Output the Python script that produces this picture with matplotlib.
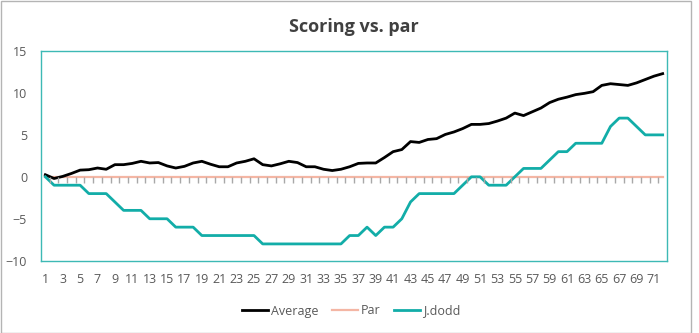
import matplotlib
matplotlib.use("Agg")
import matplotlib.pyplot as plt
from matplotlib.patches import Rectangle

plt.rcParams['font.family'] = ['Open Sans', 'DejaVu Sans']

holes = list(range(1, 73))
average = [0.25, -0.2, 0.05, 0.4, 0.8, 0.85, 1.05, 0.9, 1.45, 1.45,
           1.6, 1.85, 1.65, 1.7, 1.3, 1.05, 1.25, 1.65, 1.85, 1.5,
           1.2, 1.2, 1.65, 1.85, 2.15, 1.45, 1.3, 1.55, 1.85, 1.7,
           1.2, 1.2, 0.9, 0.75, 0.9, 1.2, 1.6, 1.65, 1.65, 2.3,
           3.0, 3.25, 4.2, 4.1, 4.45, 4.55, 5.05, 5.35, 5.75, 6.25,
           6.25, 6.35, 6.65, 7.0, 7.6, 7.3, 7.75, 8.2, 8.85, 9.25,
           9.5, 9.8, 9.95, 10.15, 10.9, 11.1, 11.0, 10.9, 11.2, 11.6,
           12.0, 12.3]
par = [0] * 72
jdodd = [0, -1, -1, -1, -1, -2, -2, -2, -3, -4,
         -4, -4, -5, -5, -5, -6, -6, -6, -7, -7,
         -7, -7, -7, -7, -7, -8, -8, -8, -8, -8,
         -8, -8, -8, -8, -8, -7, -7, -6, -7, -6,
         -6, -5, -3, -2, -2, -2, -2, -2, -1, 0,
         0, -1, -1, -1, 0, 1, 1, 1, 2, 3,
         3, 4, 4, 4, 4, 6, 7, 7, 6, 5,
         5, 5]
yticks = [-10, -5, 0, 5, 10, 15]

TEAL = '#12ADA8'
GREY_TXT = '#595959'

L, B, W, H = 41/699, 1 - 260.7/333, 626/699, 209.7/333

fig = plt.figure(figsize=(6.99, 3.33), dpi=100)
ax = fig.add_axes([L, B, W, H])

ax.plot(holes, par, color='#F4B6A4', lw=1.6, label='Par', zorder=3)
ax.plot(holes, average, color='black', lw=2.0, label='Average', zorder=4)
ax.plot(holes, jdodd, color=TEAL, lw=2.0, label='J.dodd', zorder=4)

ax.set_xlim(0.5, 72.5)
ax.set_ylim(-10, 15)
ax.set_yticks(yticks)
ax.set_xticks(holes[::2])
ax.tick_params(axis='both', length=0, labelsize=9, colors=GREY_TXT)
ax.tick_params(axis='y', pad=10)
ax.tick_params(axis='x', pad=9)
for s in ax.spines.values():
    s.set_color('#3DB9B5')
    s.set_linewidth(1.0)

# category tick marks hanging from the zero line (thin overlay axes)
zero_frac = (0 - yticks[0]) / (yticks[-1] - yticks[0])
tk = fig.add_axes([L, B + zero_frac * H, W, 0.0005])
tk.set_xlim(ax.get_xlim())
tk.set_xticks([h + 0.5 for h in holes[:-1]])
tk.set_xticklabels([])
tk.set_yticks([])
tk.patch.set_visible(False)
for s in tk.spines.values():
    s.set_visible(False)
tk.tick_params(axis='x', direction='out', length=4.5, width=1.0, color='#A8A8A8')

ax.set_title('Scoring vs. par', fontsize=13, fontweight='bold', color='#404040', pad=14)

handles, labels = ax.get_legend_handles_labels()
order = [1, 0, 2]
fig.legend([handles[i] for i in order], [labels[i] for i in order],
           loc='center', bbox_to_anchor=(351/699, 1 - 311/333), ncol=3,
           frameon=False, fontsize=9, handlelength=2.1, handletextpad=0.2,
           columnspacing=1.1, labelcolor=GREY_TXT)

fig.patches.append(Rectangle((0.5/699, 0.5/333), 690/699, 331.5/333,
                             transform=fig.transFigure, fill=False,
                             edgecolor='#B4B4B4', lw=1.0))

fig.savefig('out.png', dpi=100, facecolor='white')
